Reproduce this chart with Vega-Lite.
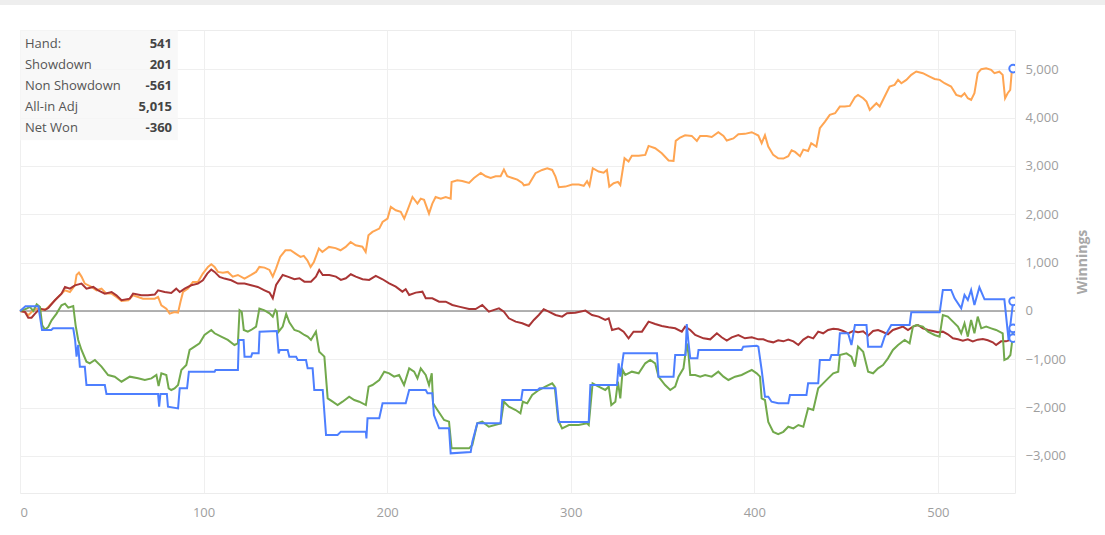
{
  "$schema": "https://vega.github.io/schema/vega-lite/v6.json",
  "autosize": {"type": "none"},
  "width": 995,
  "height": 463,
  "padding": {"left": 20, "top": 30, "right": 90, "bottom": 42},
  "background": "#ffffff",
  "datasets": {
    "showdown": [
      {"h":0,"v":0},{"h":3,"v":100},{"h":10,"v":100},{"h":12,"v":-393},{"h":17,"v":-393},{"h":18,"v":-360},{"h":29,"v":-360},{"h":30,"v":-600},{"h":30.8,"v":-946},{"h":31.7,"v":-704},{"h":32.6,"v":-1152},{"h":35.3,"v":-1152},{"h":36.2,"v":-1532},{"h":46.2,"v":-1532},{"h":47.1,"v":-1718},{"h":75.2,"v":-1718},{"h":75.8,"v":-1980},{"h":76.5,"v":-1718},{"h":80,"v":-1718},{"h":80.6,"v":-1980},{"h":86.1,"v":-2015},{"h":87,"v":-1601},{"h":91,"v":-1601},{"h":92,"v":-1256},{"h":106,"v":-1256},{"h":106.5,"v":-1221},{"h":118.7,"v":-1221},{"h":119.2,"v":-600},{"h":121.8,"v":-600},{"h":122.3,"v":-945},{"h":125.9,"v":-945},{"h":126.5,"v":-877},{"h":130,"v":-877},{"h":130.5,"v":-428},{"h":139.9,"v":-414},{"h":140.9,"v":-876},{"h":141.5,"v":-807},{"h":145.8,"v":-807},{"h":146.7,"v":-945},{"h":150.4,"v":-945},{"h":151.3,"v":-1014},{"h":155.8,"v":-1014},{"h":156.7,"v":-1187},{"h":159.4,"v":-1187},{"h":160.3,"v":-1635},{"h":164.9,"v":-1635},{"h":166.7,"v":-2567},{"h":173,"v":-2567},{"h":174.8,"v":-2497},{"h":188.4,"v":-2497},{"h":188.7,"v":-2635},{"h":189.3,"v":-2221},{"h":195.7,"v":-2221},{"h":197.5,"v":-1911},{"h":210.1,"v":-1911},{"h":212,"v":-1635},{"h":221,"v":-1635},{"h":222,"v":-1704},{"h":224.6,"v":-1704},{"h":225.5,"v":-2152},{"h":228.3,"v":-2428},{"h":233.7,"v":-2428},{"h":234.6,"v":-2946},{"h":245.5,"v":-2920},{"h":246.4,"v":-2704},{"h":249.1,"v":-2325},{"h":261.8,"v":-2325},{"h":262.7,"v":-1842},{"h":273,"v":-1842},{"h":273.8,"v":-1635},{"h":282,"v":-1635},{"h":283,"v":-1601},{"h":291.7,"v":-1601},{"h":293.5,"v":-2297},{"h":309.8,"v":-2297},{"h":310.7,"v":-1532},{"h":325.2,"v":-1532},{"h":326.1,"v":-1083},{"h":327,"v":-1359},{"h":328.8,"v":-876},{"h":347,"v":-876},{"h":347.8,"v":-1359},{"h":356,"v":-1359},{"h":356.9,"v":-911},{"h":362.5,"v":-911},{"h":363.2,"v":-269},{"h":364,"v":-600},{"h":365.1,"v":-980},{"h":369,"v":-980},{"h":369.6,"v":-807},{"h":393.1,"v":-807},{"h":394,"v":-738},{"h":401.3,"v":-720},{"h":402.2,"v":-738},{"h":404,"v":-1221},{"h":405.8,"v":-1773},{"h":407.6,"v":-1773},{"h":409.4,"v":-1877},{"h":413,"v":-1911},{"h":418.5,"v":-1911},{"h":419.4,"v":-1739},{"h":428.4,"v":-1739},{"h":429.3,"v":-1497},{"h":434.8,"v":-1497},{"h":435.7,"v":-1014},{"h":441.1,"v":-1014},{"h":442,"v":-911},{"h":445.7,"v":-911},{"h":446.6,"v":-463},{"h":451.1,"v":-463},{"h":452.9,"v":-704},{"h":454.8,"v":-290},{"h":461.1,"v":-290},{"h":462,"v":-738},{"h":469.2,"v":-738},{"h":471,"v":-531},{"h":474.6,"v":-290},{"h":484.6,"v":-290},{"h":485.5,"v":-28},{"h":501,"v":-28},{"h":502.7,"v":435},{"h":507.2,"v":435},{"h":509.1,"v":262},{"h":512.7,"v":55},{"h":514.5,"v":331},{"h":516.3,"v":228},{"h":518.1,"v":435},{"h":519.9,"v":124},{"h":522.6,"v":490},{"h":525.4,"v":242},{"h":536.2,"v":242},{"h":538.5,"v":-600},{"h":541,"v":201}
    ],
    "nonshowdown": [
      {"h":0,"v":0},{"h":2.7,"v":-20},{"h":4.5,"v":-138},{"h":6.3,"v":-138},{"h":8.2,"v":-55},{"h":10.9,"v":48},{"h":13.6,"v":20},{"h":15.4,"v":62},{"h":19,"v":221},{"h":22.6,"v":359},{"h":24.5,"v":497},{"h":27.2,"v":462},{"h":29.9,"v":531},{"h":33.5,"v":566},{"h":36.2,"v":462},{"h":39.9,"v":497},{"h":42.6,"v":428},{"h":46.2,"v":359},{"h":49.9,"v":393},{"h":52.5,"v":324},{"h":55.3,"v":221},{"h":59.8,"v":255},{"h":61.6,"v":359},{"h":66.1,"v":324},{"h":69.7,"v":324},{"h":73.4,"v":340},{"h":75.2,"v":428},{"h":78.8,"v":393},{"h":82.4,"v":373},{"h":85.1,"v":462},{"h":87,"v":393},{"h":89.7,"v":462},{"h":93.3,"v":531},{"h":96.9,"v":566},{"h":99.6,"v":635},{"h":102,"v":773},{"h":104.2,"v":856},{"h":106,"v":808},{"h":108.7,"v":704},{"h":111.4,"v":670},{"h":115.1,"v":635},{"h":118.7,"v":566},{"h":122.3,"v":566},{"h":125.9,"v":531},{"h":129.5,"v":497},{"h":133.2,"v":428},{"h":135.9,"v":380},{"h":137.7,"v":262},{"h":139.5,"v":538},{"h":143.1,"v":745},{"h":145.8,"v":711},{"h":149.5,"v":656},{"h":152.2,"v":677},{"h":154.9,"v":607},{"h":158.5,"v":607},{"h":161.2,"v":711},{"h":163,"v":849},{"h":164.9,"v":745},{"h":168.5,"v":745},{"h":172.1,"v":711},{"h":174.8,"v":642},{"h":177.5,"v":677},{"h":180.2,"v":759},{"h":182.9,"v":711},{"h":186.6,"v":656},{"h":190.2,"v":642},{"h":193.8,"v":725},{"h":197.5,"v":656},{"h":201.1,"v":573},{"h":204.7,"v":504},{"h":208.3,"v":400},{"h":210.1,"v":449},{"h":212,"v":331},{"h":215.6,"v":380},{"h":219.2,"v":400},{"h":221,"v":262},{"h":224.6,"v":262},{"h":228.3,"v":193},{"h":231.9,"v":193},{"h":235.5,"v":124},{"h":239.1,"v":90},{"h":244.6,"v":41},{"h":248.2,"v":41},{"h":251.8,"v":124},{"h":255.4,"v":-14},{"h":259.1,"v":34},{"h":260.9,"v":55},{"h":263.6,"v":-14},{"h":266.3,"v":-152},{"h":270,"v":-221},{"h":273.6,"v":-255},{"h":277.2,"v":-311},{"h":279.9,"v":-186},{"h":282.6,"v":-83},{"h":285.3,"v":35},{"h":288,"v":-14},{"h":291.7,"v":-83},{"h":295.3,"v":-117},{"h":298,"v":-48},{"h":302.5,"v":-35},{"h":308,"v":7},{"h":311.6,"v":-83},{"h":315.2,"v":-117},{"h":318.8,"v":-186},{"h":320.7,"v":-152},{"h":322.5,"v":-393},{"h":326.1,"v":-359},{"h":328.8,"v":-428},{"h":331.5,"v":-566},{"h":334.2,"v":-428},{"h":338.8,"v":-428},{"h":342.4,"v":-221},{"h":346,"v":-269},{"h":349.6,"v":-311},{"h":353.3,"v":-338},{"h":356.9,"v":-359},{"h":360.5,"v":-428},{"h":362.3,"v":-324},{"h":365.1,"v":-393},{"h":367.8,"v":-497},{"h":372.3,"v":-566},{"h":376,"v":-587},{"h":379.6,"v":-462},{"h":382.2,"v":-545},{"h":385,"v":-614},{"h":387.7,"v":-545},{"h":391.3,"v":-497},{"h":394.9,"v":-566},{"h":398.6,"v":-545},{"h":402.2,"v":-587},{"h":404.9,"v":-587},{"h":407.6,"v":-628},{"h":410.3,"v":-649},{"h":413,"v":-607},{"h":415.8,"v":-628},{"h":418.5,"v":-593},{"h":421.3,"v":-628},{"h":424,"v":-704},{"h":426.7,"v":-593},{"h":429.3,"v":-531},{"h":432.1,"v":-566},{"h":434.8,"v":-428},{"h":437.5,"v":-462},{"h":440.2,"v":-393},{"h":443,"v":-366},{"h":445.7,"v":-380},{"h":448.4,"v":-414},{"h":451.1,"v":-462},{"h":453.8,"v":-414},{"h":456.5,"v":-442},{"h":459.3,"v":-421},{"h":462,"v":-511},{"h":464.7,"v":-414},{"h":467.4,"v":-393},{"h":470.1,"v":-435},{"h":472.8,"v":-483},{"h":475.5,"v":-393},{"h":478.3,"v":-359},{"h":481,"v":-324},{"h":483.7,"v":-393},{"h":486.4,"v":-324},{"h":489.1,"v":-290},{"h":491.8,"v":-359},{"h":494.6,"v":-393},{"h":497.3,"v":-414},{"h":500,"v":-442},{"h":502.7,"v":-428},{"h":505.4,"v":-483},{"h":508.2,"v":-566},{"h":510.9,"v":-587},{"h":513.6,"v":-614},{"h":516.3,"v":-587},{"h":519,"v":-628},{"h":521.7,"v":-593},{"h":524.5,"v":-580},{"h":527.2,"v":-607},{"h":529.9,"v":-649},{"h":531.7,"v":-704},{"h":534.4,"v":-628},{"h":537.1,"v":-628},{"h":539.9,"v":-593},{"h":541,"v":-561}
    ],
    "netwon": [
      {"h":0,"v":0},{"h":3.6,"v":48},{"h":5.4,"v":83},{"h":7.2,"v":0},{"h":9.1,"v":138},{"h":10.9,"v":83},{"h":12.1,"v":-297},{"h":13.6,"v":-386},{"h":15.4,"v":-330},{"h":17.2,"v":-193},{"h":19.9,"v":-55},{"h":22.6,"v":117},{"h":24.5,"v":152},{"h":26.3,"v":69},{"h":29,"v":103},{"h":30.3,"v":-297},{"h":31.7,"v":-600},{"h":33.5,"v":-807},{"h":36.2,"v":-1049},{"h":38,"v":-1083},{"h":40.8,"v":-1014},{"h":44.4,"v":-1152},{"h":48,"v":-1325},{"h":51.6,"v":-1359},{"h":55.3,"v":-1463},{"h":59.8,"v":-1359},{"h":64.3,"v":-1394},{"h":68,"v":-1428},{"h":71.6,"v":-1394},{"h":74.3,"v":-1325},{"h":75.5,"v":-1553},{"h":77,"v":-1290},{"h":79.7,"v":-1325},{"h":81,"v":-1601},{"h":82.4,"v":-1635},{"h":84.2,"v":-1601},{"h":86.1,"v":-1532},{"h":87.9,"v":-1221},{"h":90.6,"v":-1118},{"h":92.4,"v":-807},{"h":95.1,"v":-739},{"h":97.8,"v":-670},{"h":100.5,"v":-497},{"h":104.2,"v":-393},{"h":106,"v":-462},{"h":109.6,"v":-531},{"h":113.2,"v":-600},{"h":116.8,"v":-704},{"h":118.7,"v":-670},{"h":119.6,"v":14},{"h":120.8,"v":-20},{"h":121.9,"v":-393},{"h":124.1,"v":-428},{"h":125.9,"v":-393},{"h":128.6,"v":-324},{"h":130.4,"v":48},{"h":133.2,"v":14},{"h":135.9,"v":-50},{"h":137.7,"v":-117},{"h":139.1,"v":21},{"h":139.9,"v":-14},{"h":140.9,"v":-428},{"h":143.1,"v":-324},{"h":145,"v":-62},{"h":146.7,"v":-235},{"h":149.5,"v":-393},{"h":152.2,"v":-428},{"h":154.9,"v":-497},{"h":156.7,"v":-531},{"h":158.5,"v":-600},{"h":161.2,"v":-428},{"h":163,"v":-842},{"h":165.8,"v":-945},{"h":167.6,"v":-1808},{"h":170.3,"v":-1877},{"h":173,"v":-1946},{"h":175.7,"v":-1877},{"h":179.3,"v":-1773},{"h":182.1,"v":-1842},{"h":184.8,"v":-1877},{"h":188.4,"v":-1946},{"h":189.9,"v":-1566},{"h":192,"v":-1532},{"h":195.7,"v":-1428},{"h":198.4,"v":-1256},{"h":201.1,"v":-1290},{"h":203.8,"v":-1359},{"h":206.5,"v":-1325},{"h":209.2,"v":-1532},{"h":212,"v":-1187},{"h":214.7,"v":-1256},{"h":216.5,"v":-1394},{"h":218.3,"v":-1187},{"h":221,"v":-1325},{"h":222.8,"v":-1532},{"h":224.3,"v":-1290},{"h":225,"v":-1911},{"h":227.4,"v":-2049},{"h":231,"v":-2256},{"h":233.7,"v":-2290},{"h":235.1,"v":-2842},{"h":239.1,"v":-2842},{"h":244.6,"v":-2842},{"h":246.4,"v":-2773},{"h":249.1,"v":-2325},{"h":251.8,"v":-2290},{"h":255.4,"v":-2394},{"h":261.8,"v":-2325},{"h":263.6,"v":-1877},{"h":266.3,"v":-1980},{"h":270,"v":-2049},{"h":272.6,"v":-2118},{"h":273.9,"v":-1877},{"h":276.3,"v":-1911},{"h":279,"v":-1739},{"h":282.6,"v":-1635},{"h":286.2,"v":-1566},{"h":289.9,"v":-1497},{"h":291.3,"v":-1566},{"h":293.1,"v":-2256},{"h":295.3,"v":-2428},{"h":299,"v":-2359},{"h":304.3,"v":-2359},{"h":308.9,"v":-2325},{"h":309.8,"v":-2359},{"h":311.9,"v":-1497},{"h":315.2,"v":-1566},{"h":318.8,"v":-1635},{"h":320.7,"v":-1566},{"h":322.1,"v":-1946},{"h":324.3,"v":-1877},{"h":325.7,"v":-1463},{"h":327,"v":-1808},{"h":328.3,"v":-1221},{"h":329.7,"v":-1325},{"h":333.3,"v":-1256},{"h":337,"v":-1290},{"h":340.6,"v":-1083},{"h":343.3,"v":-1014},{"h":346,"v":-1083},{"h":347.8,"v":-1359},{"h":351.4,"v":-1532},{"h":354.2,"v":-1635},{"h":356.9,"v":-1566},{"h":358.7,"v":-1359},{"h":361.4,"v":-1187},{"h":363.2,"v":-669},{"h":364.1,"v":-876},{"h":365.1,"v":-1325},{"h":367.8,"v":-1325},{"h":370.5,"v":-1359},{"h":373.2,"v":-1325},{"h":376.8,"v":-1359},{"h":380.4,"v":-1256},{"h":383.2,"v":-1359},{"h":385.9,"v":-1428},{"h":389.5,"v":-1359},{"h":393.1,"v":-1325},{"h":396.7,"v":-1256},{"h":398.6,"v":-1221},{"h":401.3,"v":-1290},{"h":403.1,"v":-1359},{"h":404,"v":-1808},{"h":405.8,"v":-1842},{"h":407.6,"v":-2297},{"h":410.3,"v":-2504},{"h":413,"v":-2550},{"h":415.8,"v":-2500},{"h":418.5,"v":-2394},{"h":421.3,"v":-2430},{"h":424,"v":-2360},{"h":426.7,"v":-2394},{"h":429.3,"v":-2014},{"h":432.1,"v":-2049},{"h":434.8,"v":-1601},{"h":437.5,"v":-1497},{"h":440.2,"v":-1394},{"h":443,"v":-1290},{"h":445.7,"v":-1256},{"h":446.6,"v":-911},{"h":450.2,"v":-877},{"h":452.9,"v":-945},{"h":454.8,"v":-1152},{"h":456.5,"v":-738},{"h":459.3,"v":-842},{"h":462,"v":-1256},{"h":464.7,"v":-1290},{"h":467.4,"v":-1187},{"h":470.1,"v":-1118},{"h":472.8,"v":-980},{"h":475.5,"v":-807},{"h":478.3,"v":-704},{"h":481.9,"v":-600},{"h":484.6,"v":-669},{"h":486.4,"v":-324},{"h":488.2,"v":-290},{"h":491.8,"v":-324},{"h":494.6,"v":-428},{"h":498.2,"v":-497},{"h":500.9,"v":-531},{"h":502.7,"v":-83},{"h":505.4,"v":-117},{"h":508.2,"v":-221},{"h":510.9,"v":-324},{"h":512.7,"v":-462},{"h":514.5,"v":-255},{"h":516.3,"v":-531},{"h":518.1,"v":-186},{"h":519.9,"v":-462},{"h":521.7,"v":-117},{"h":523.6,"v":-359},{"h":526.3,"v":-324},{"h":529,"v":-359},{"h":531.7,"v":-393},{"h":535.3,"v":-462},{"h":536.2,"v":-1014},{"h":538,"v":-980},{"h":539.5,"v":-911},{"h":540.3,"v":-669},{"h":541,"v":-360}
    ],
    "allin": [
      {"h":0,"v":0},{"h":2.7,"v":-20},{"h":4.5,"v":-90},{"h":6.3,"v":-20},{"h":9.1,"v":48},{"h":11.8,"v":20},{"h":14.5,"v":48},{"h":17.2,"v":152},{"h":20.8,"v":290},{"h":24.5,"v":428},{"h":27.2,"v":393},{"h":29.9,"v":531},{"h":30.8,"v":745},{"h":32.1,"v":794},{"h":33.5,"v":711},{"h":35.3,"v":566},{"h":38.9,"v":497},{"h":41.7,"v":428},{"h":44.4,"v":462},{"h":47.1,"v":359},{"h":49.9,"v":359},{"h":52.5,"v":290},{"h":55.3,"v":207},{"h":59,"v":221},{"h":61.6,"v":324},{"h":64.3,"v":290},{"h":67,"v":255},{"h":69.7,"v":255},{"h":73.4,"v":255},{"h":75.2,"v":290},{"h":77,"v":117},{"h":79.7,"v":48},{"h":81.5,"v":-55},{"h":84.2,"v":-21},{"h":86.1,"v":-35},{"h":87.4,"v":186},{"h":88.8,"v":393},{"h":91.5,"v":462},{"h":94.2,"v":600},{"h":96.9,"v":600},{"h":99.6,"v":773},{"h":102.4,"v":911},{"h":104.2,"v":966},{"h":106,"v":911},{"h":107.8,"v":808},{"h":110.5,"v":790},{"h":113.2,"v":808},{"h":115.9,"v":711},{"h":118.7,"v":745},{"h":122.3,"v":670},{"h":125.9,"v":745},{"h":128.6,"v":808},{"h":130.4,"v":911},{"h":133.2,"v":897},{"h":135.9,"v":849},{"h":137.7,"v":711},{"h":139.5,"v":883},{"h":141.7,"v":1118},{"h":144.6,"v":1256},{"h":147.4,"v":1256},{"h":150.1,"v":1187},{"h":152.8,"v":1118},{"h":154.6,"v":1140},{"h":156.5,"v":1049},{"h":158.3,"v":911},{"h":160.1,"v":1014},{"h":162.8,"v":1290},{"h":164.7,"v":1221},{"h":168.3,"v":1325},{"h":171.9,"v":1300},{"h":174.6,"v":1256},{"h":177.4,"v":1325},{"h":180.1,"v":1428},{"h":182.8,"v":1359},{"h":186.5,"v":1330},{"h":188.3,"v":1221},{"h":189.8,"v":1566},{"h":192,"v":1635},{"h":195.7,"v":1704},{"h":197.5,"v":1842},{"h":200.2,"v":1911},{"h":202,"v":2152},{"h":204.7,"v":2084},{"h":207.4,"v":2050},{"h":209.3,"v":1911},{"h":211.1,"v":2084},{"h":213.8,"v":2359},{"h":216.5,"v":2221},{"h":218.3,"v":2325},{"h":220.1,"v":2300},{"h":222.8,"v":2014},{"h":224.6,"v":2221},{"h":226.4,"v":2359},{"h":229.2,"v":2325},{"h":231.9,"v":2359},{"h":234.6,"v":2325},{"h":235.1,"v":2670},{"h":238.2,"v":2704},{"h":240.9,"v":2690},{"h":244.6,"v":2649},{"h":247.3,"v":2752},{"h":251,"v":2856},{"h":253.7,"v":2787},{"h":256.4,"v":2752},{"h":259.1,"v":2787},{"h":261.8,"v":2787},{"h":263.6,"v":2925},{"h":265.4,"v":2787},{"h":268.2,"v":2752},{"h":270.9,"v":2718},{"h":273.6,"v":2649},{"h":274.5,"v":2600},{"h":277.2,"v":2621},{"h":280.8,"v":2850},{"h":284.4,"v":2918},{"h":287.2,"v":2953},{"h":289.9,"v":2918},{"h":291.7,"v":2780},{"h":293.5,"v":2559},{"h":297.1,"v":2573},{"h":300.8,"v":2614},{"h":304.4,"v":2614},{"h":307.1,"v":2590},{"h":308.9,"v":2684},{"h":310.2,"v":2590},{"h":312,"v":2953},{"h":315.2,"v":2884},{"h":317.9,"v":2860},{"h":319.7,"v":2918},{"h":321,"v":2573},{"h":323.4,"v":2642},{"h":325.7,"v":2670},{"h":327,"v":2607},{"h":329.3,"v":3160},{"h":331.5,"v":3091},{"h":333.3,"v":3209},{"h":337,"v":3209},{"h":340.6,"v":3229},{"h":342.4,"v":3415},{"h":346,"v":3367},{"h":349.6,"v":3264},{"h":353.3,"v":3112},{"h":356,"v":3105},{"h":357.2,"v":3519},{"h":359.6,"v":3588},{"h":362.3,"v":3636},{"h":365.9,"v":3622},{"h":368.7,"v":3519},{"h":370.5,"v":3622},{"h":374.1,"v":3622},{"h":376.8,"v":3600},{"h":380.4,"v":3698},{"h":383.2,"v":3622},{"h":385,"v":3526},{"h":388.6,"v":3570},{"h":391.3,"v":3657},{"h":394.9,"v":3664},{"h":398.6,"v":3698},{"h":402.2,"v":3630},{"h":404,"v":3470},{"h":405.8,"v":3636},{"h":407.6,"v":3402},{"h":410.3,"v":3229},{"h":413,"v":3160},{"h":415.8,"v":3153},{"h":418.5,"v":3201},{"h":420.3,"v":3325},{"h":422.2,"v":3290},{"h":424.9,"v":3201},{"h":426.7,"v":3339},{"h":429.3,"v":3310},{"h":431,"v":3470},{"h":433.8,"v":3401},{"h":435.7,"v":3781},{"h":438.5,"v":3919},{"h":441.1,"v":4057},{"h":444,"v":4091},{"h":446.6,"v":4229},{"h":449.3,"v":4229},{"h":452,"v":4243},{"h":454.8,"v":4423},{"h":456.5,"v":4471},{"h":459.3,"v":4401},{"h":461.1,"v":4333},{"h":462.9,"v":4160},{"h":464.7,"v":4229},{"h":466.5,"v":4298},{"h":468.3,"v":4229},{"h":471,"v":4436},{"h":473.7,"v":4643},{"h":476.4,"v":4678},{"h":478.3,"v":4781},{"h":480.1,"v":4712},{"h":482.8,"v":4781},{"h":485.5,"v":4885},{"h":488.2,"v":4954},{"h":491.8,"v":4919},{"h":495.5,"v":4850},{"h":498.2,"v":4800},{"h":501,"v":4781},{"h":503.6,"v":4712},{"h":507.2,"v":4643},{"h":510,"v":4471},{"h":512.7,"v":4436},{"h":514.5,"v":4505},{"h":516.3,"v":4401},{"h":518.1,"v":4367},{"h":519.9,"v":4505},{"h":521.7,"v":4919},{"h":523.6,"v":5002},{"h":526.3,"v":5023},{"h":529,"v":4988},{"h":530.8,"v":4919},{"h":533.5,"v":4950},{"h":535.3,"v":4885},{"h":536.6,"v":4401},{"h":538,"v":4505},{"h":539.4,"v":4574},{"h":540.3,"v":4988},{"h":541,"v":5015}
    ]
  },
  "encoding": {
    "x": {
      "field": "h",
      "type": "quantitative",
      "title": null,
      "scale": {"domain": [0, 542], "nice": false, "zero": false},
      "axis": {"values": [0, 100, 200, 300, 400, 500], "labelPadding": 13}
    },
    "y": {
      "field": "v",
      "type": "quantitative",
      "title": "Winnings",
      "scale": {"domain": [-3766, 5813], "nice": false, "zero": false},
      "axis": {
        "orient": "right",
        "values": [-3000, -2000, -1000, 0, 1000, 2000, 3000, 4000, 5000],
        "format": ",.0f",
        "labelPadding": 10,
        "titlePadding": 24,
        "titleAngle": 270,
        "titleFontSize": 14,
        "titleFontWeight": "bold"
      }
    }
  },
  "layer": [
    {
      "data": {"values": [{"h": -10.9, "h2": 592, "v": 6434, "v2": 6330}]},
      "mark": {"type": "rect", "color": "#eeeeee"},
      "encoding": {"x2": {"field": "h2"}, "y2": {"field": "v2"}}
    },
    {
      "data": {"values": [{"h": 0, "h2": 86, "v": 5813, "v2": 3530}]},
      "mark": {"type": "rect", "color": "#f6f6f6", "opacity": 0.8},
      "encoding": {"x2": {"field": "h2"}, "y2": {"field": "v2"}}
    },
    {
      "data": {"values": [{"v": 0}]},
      "mark": {"type": "rule", "color": "#999999", "strokeWidth": 1.5},
      "encoding": {"x": {"value": 0}, "x2": {"value": 995}, "y": {"field": "v", "type": "quantitative"}}
    },
    {
      "data": {"name": "allin"},
      "mark": {"type": "line", "color": "#ffa552", "strokeWidth": 2}
    },
    {
      "data": {"name": "nonshowdown"},
      "mark": {"type": "line", "color": "#a93535", "strokeWidth": 2}
    },
    {
      "data": {"name": "netwon"},
      "mark": {"type": "line", "color": "#72a94c", "strokeWidth": 2}
    },
    {
      "data": {"name": "showdown"},
      "mark": {"type": "line", "color": "#4d7fff", "strokeWidth": 2}
    },
    {
      "data": {"values": [{"h": 541, "v": 5015}, {"h": 541, "v": 201}, {"h": 541, "v": -360}, {"h": 541, "v": -561}]},
      "mark": {"type": "point", "shape": "circle", "size": 60, "filled": true, "fill": "#ffffff", "stroke": "#4d7fff", "strokeWidth": 2, "opacity": 1, "clip": true}
    },
    {
      "data": {"values": [
        {"h": 2.7, "v": 5524, "t": "Hand:"},
        {"h": 2.7, "v": 5090, "t": "Showdown"},
        {"h": 2.7, "v": 4655, "t": "Non Showdown"},
        {"h": 2.7, "v": 4221, "t": "All-in Adj"},
        {"h": 2.7, "v": 3786, "t": "Net Won"}
      ]},
      "mark": {"type": "text", "align": "left", "baseline": "middle", "fontSize": 13, "color": "#555555"},
      "encoding": {"text": {"field": "t"}}
    },
    {
      "data": {"values": [
        {"h": 82.8, "v": 5524, "t": "541"},
        {"h": 82.8, "v": 5090, "t": "201"},
        {"h": 82.8, "v": 4655, "t": "-561"},
        {"h": 82.8, "v": 4221, "t": "5,015"},
        {"h": 82.8, "v": 3786, "t": "-360"}
      ]},
      "mark": {"type": "text", "align": "right", "baseline": "middle", "fontSize": 13, "fontWeight": "bold", "color": "#444444"},
      "encoding": {"text": {"field": "t"}}
    }
  ],
  "config": {
    "font": "Open Sans",
    "view": {"stroke": "#ececec"},
    "axis": {
      "grid": true,
      "gridColor": "#efefef",
      "domain": false,
      "ticks": false,
      "tickSize": 0,
      "labelColor": "#9e9e9e",
      "labelFontSize": 13,
      "titleColor": "#a8a8a8"
    }
  }
}
